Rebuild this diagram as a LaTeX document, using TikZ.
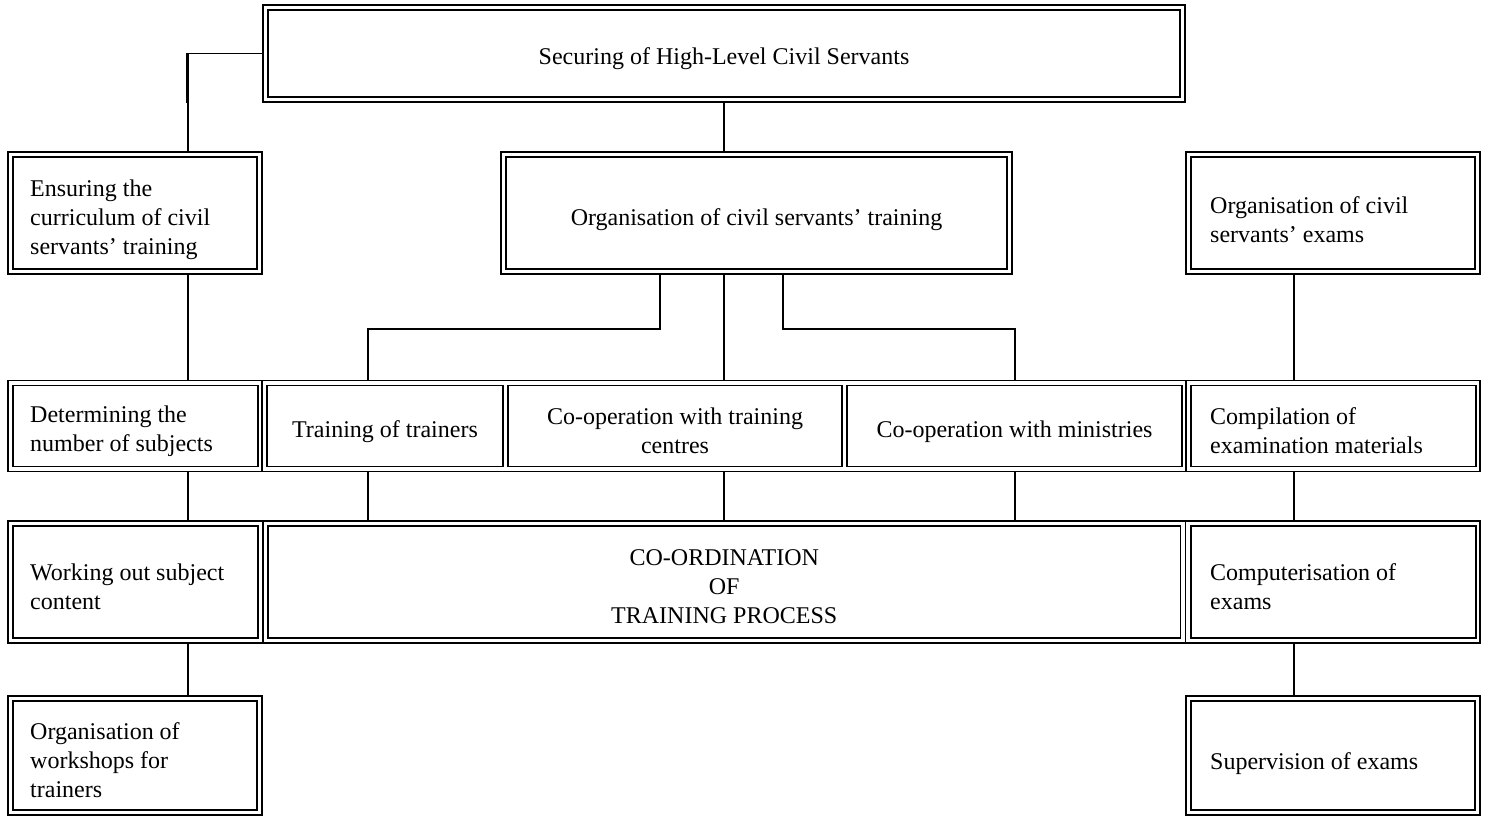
\documentclass[tikz,border=0pt]{standalone}
\usepackage{fontspec}
\setmainfont{Liberation Serif}
\begin{document}
\begin{tikzpicture}[x=1pt,y=-1pt,
  every node/.style={font=\fontsize{24}{29}\selectfont, inner sep=0pt},
  dbl/.style={draw, double, line width=1.6pt, double distance=3.4pt, outer sep=3.3pt},
  cell/.style={draw, line width=1.6pt, outer sep=5pt},
  sz/.style 2 args={minimum width=#1pt, minimum height=#2pt},
  tl/.style={anchor=west, align=left},
  tc/.style={align=center},
  ln/.style={line width=1.6pt},
]
\useasboundingbox (0,0) rectangle (1489,816);

% x positions of connectors
\coordinate (x188) at (188,0);
\coordinate (x368) at (368,0);
\coordinate (x660) at (660,0);
\coordinate (x724) at (724,0);
\coordinate (x783) at (783,0);
\coordinate (x1015) at (1015,0);
\coordinate (x1294) at (1294,0);
\coordinate (b1) at (368,329);
\coordinate (b2) at (1015,329);
\coordinate (k1) at (188,103);

% isolated double boxes
\node[dbl, sz={917.4}{92.4}] (top) at (724,53.5) {};
\node[dbl, sz={249.4}{117.4}] (ens) at (135,213) {};
\node[dbl, sz={506.4}{117.4}] (org) at (756.5,213) {};
\node[dbl, sz={289.4}{117.4}] (exm) at (1333,213) {};
\node[dbl, sz={249.4}{114.4}] (wsh) at (135,755.5) {};
\node[dbl, sz={289.4}{114.4}] (sup) at (1333,755.5) {};

% row 3 tables
\draw[ln] (8,380.5) rectangle (262,471.5);
\draw[ln] (262,380.5) rectangle (1186,471.5);
\draw[ln] (1186,380.5) rectangle (1480.2,471.5);
\node[cell, sz={245}{81}] (det) at (135.5,426) {};
\node[cell, sz={236}{81}] (trn) at (385,426) {};
\node[cell, sz={334}{81}] (ctc) at (675,426) {};
\node[cell, sz={335}{81}] (min) at (1014.5,426) {};
\node[cell, sz={285}{81}] (cmp) at (1333.5,426) {};

% row 4 tables
\draw[ln] (8,521) rectangle (263,643);
\draw[ln] (263,521) rectangle (1185.5,643);
\draw[ln] (1185.5,521) rectangle (1480.2,643);
\node[cell, sz={245}{112}] (wrk) at (135.5,582) {};
\node[cell, sz={912.5}{112}] (crd) at (724.25,582) {};
\node[cell, sz={285}{112}] (cpt) at (1333.5,582) {};

% texts
\node[tc] (top-t) at ([yshift=-5pt]top.center) {Securing of High-Level Civil Servants};
\node[tl] (ens-t) at ([xshift=23pt,yshift=-7pt]ens.west) {Ensuring the\\curriculum of civil\\servants’ training};
\node[tc] (org-t) at ([yshift=-7pt]org.center) {Organisation of civil servants’ training};
\node[tl] (exm-t) at ([xshift=25pt,yshift=-7pt]exm.west) {Organisation of civil\\servants’ exams};
\node[tl] (det-t) at ([xshift=22pt,yshift=-5pt]det.west) {Determining the\\number of subjects};
\node[tc] (trn-t) at ([yshift=-6pt]trn.center) {Training of trainers};
\node[tc] (ctc-t) at ([yshift=-5pt]ctc.center) {Co-operation with training\\centres};
\node[tc] (min-t) at ([yshift=-6pt]min.center) {Co-operation with ministries};
\node[tl] (cmp-t) at ([xshift=24pt,yshift=-5pt]cmp.west) {Compilation of\\examination materials};
\node[tl] (wrk-t) at ([xshift=22pt,yshift=-5pt]wrk.west) {Working out subject\\content};
\node[tc] (crd-t) at ([yshift=-5pt]crd.center) {CO-ORDINATION\\OF\\TRAINING PROCESS};
\node[tl] (cpt-t) at ([xshift=24pt,yshift=-5pt]cpt.west) {Computerisation of\\exams};
\node[tl] (wsh-t) at ([xshift=23pt,yshift=-5pt]wsh.west) {Organisation of\\workshops for\\trainers};
\node[tl] (sup-t) at ([xshift=25pt,yshift=-8pt]sup.west) {Supervision of exams};

% connectors
\draw[ln] (top.west) -- (top.west -| x188);
\draw[line width=2.6pt] ([xshift=-0.5pt]top.west -| x188) -- ([xshift=-0.5pt]k1);
\draw[ln] (k1) -- (ens.north -| x188);
\draw[ln] (top.south -| x724) -- (org.north -| x724);
\draw[ln] (ens.south -| x188) -- (det.north -| x188);
\draw[ln] (exm.south -| x1294) -- (cmp.north -| x1294);
\draw[ln] (org.south -| x660) |- (b1) -- (trn.north -| x368);
\draw[ln] (org.south -| x724) -- (ctc.north -| x724);
\draw[ln] (org.south -| x783) |- (b2) -- (min.north -| x1015);
\draw[ln] (det.south -| x188) -- (wrk.north -| x188);
\draw[ln] (trn.south -| x368) -- (crd.north -| x368);
\draw[ln] (ctc.south -| x724) -- (crd.north -| x724);
\draw[ln] (min.south -| x1015) -- (crd.north -| x1015);
\draw[ln] (cmp.south -| x1294) -- (cpt.north -| x1294);
\draw[ln] (wrk.south -| x188) -- (wsh.north -| x188);
\draw[ln] (cpt.south -| x1294) -- (sup.north -| x1294);
\end{tikzpicture}
\end{document}
